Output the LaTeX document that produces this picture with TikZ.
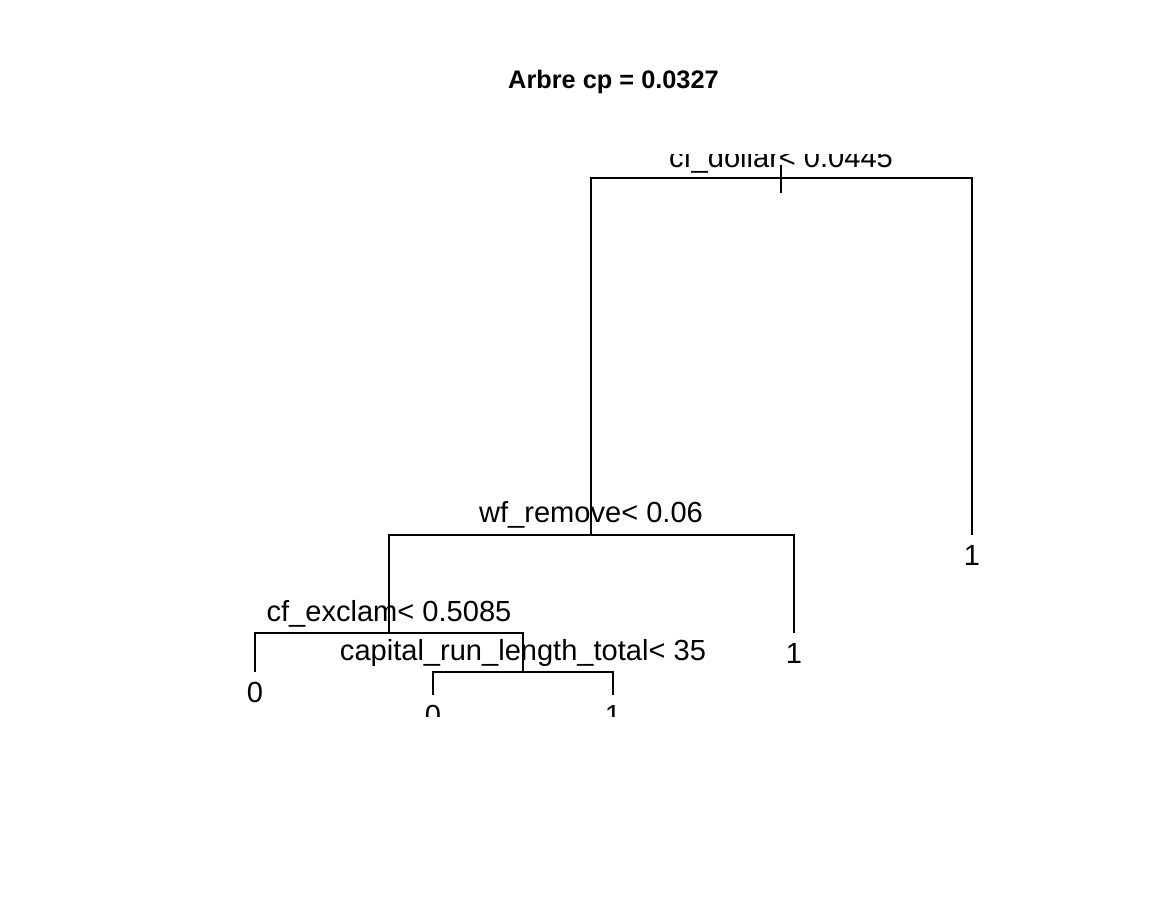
\documentclass[tikz,border=0pt]{standalone}
\usepackage{fontspec}
\setsansfont{Liberation Sans}

\begin{document}
\begin{tikzpicture}[
    x=0.75pt, y=-0.75pt,
    every node/.style={font=\sffamily\fontsize{21.8}{26}\selectfont, inner sep=0pt},
    branch/.style={draw=black, line width=1.5pt},
    splitlabel/.style={anchor=base},
    leaflabel/.style={anchor=base},
    titlelabel/.style={anchor=base, font=\sffamily\bfseries\fontsize{19}{23}\selectfont}
  ]
    \fill[white] (0,0) rectangle (1152,912);
    \useasboundingbox (0,0) rectangle (1152,912);

    % Title
    \node[titlelabel] (title) at (613.5,89) {Arbre cp = 0.0327};

    \begin{scope}
    \clip (0,155) rectangle (1152,716.7);

    % Nodes
    \coordinate (root) at (781,178);
    \coordinate (remove) at (591,535);
    \coordinate (leafA) at (972,535);
    \coordinate (exclam) at (389,633);
    \coordinate (leafB) at (794,633);
    \coordinate (leafC) at (255,672);
    \coordinate (capital) at (523,672);
    \coordinate (leafD) at (433,695);
    \coordinate (leafE) at (613,695);

    % Connections
    \draw[branch] (remove) |- (root) -| (leafA);
    \draw[branch] (exclam) |- (remove) -| (leafB);
    \draw[branch] (leafC) |- (exclam) -| (capital);
    \draw[branch] (leafD) |- (capital) -| (leafE);
    \draw[branch] (root) ++(0,-13) -- ++(0,28);

    % Labels
    \node[splitlabel] (rootlbl) at (781,168) {cf\_dollar< 0.0445};
    \node[splitlabel] (removelbl) at (591,522) {wf\_remove< 0.06};
    \node[splitlabel] (exclamlbl) at (389,621.5) {cf\_exclam< 0.5085};
    \node[splitlabel] (capitallbl) at (523,660) {capital\_run\_length\_total< 35};
    \node[leaflabel] (leafAlbl) at (972,565) {1};
    \node[leaflabel] (leafBlbl) at (794,663) {1};
    \node[leaflabel] (leafClbl) at (255,702) {0};
    \node[leaflabel] (leafDlbl) at (433,725) {0};
    \node[leaflabel] (leafElbl) at (613,725) {1};
    \end{scope}
\end{tikzpicture}
\end{document}
